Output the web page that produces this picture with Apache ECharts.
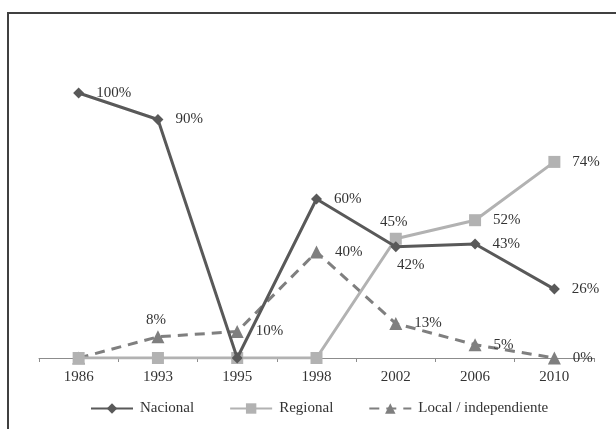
<!DOCTYPE html>
<html>
<head>
<meta charset="utf-8">
<script src="https://cdn.jsdelivr.net/npm/echarts@6/dist/echarts.min.js"></script>
<style>
  html, body { margin: 0; padding: 0; background: #fff; }
  #chart { width: 616px; height: 429px; }
</style>
</head>
<body>
<div id="chart"></div>
<script>
// datos
var years = ['1986', '1993', '1995', '1998', '2002', '2006', '2010'];
var nacional = [100, 90, 0, 60, 42, 43, 26];
var regional = [0, 0, 0, 0, 45, 52, 74];
var local = [0, 8, 10, 40, 13, 5, 0];

var FONT = 'Liberation Serif';

// posicion de etiquetas: null = sin etiqueta
var nacionalPos = ['right', 'right', null, 'right', 'below', 'right', 'right'];
var regionalPos = [null, null, null, null, 'above', 'right', 'right'];
var localPos = [null, 'above', 'right', 'right', 'right', 'right', 'right'];

function buildData(values, positions) {
  return values.map(function (v, i) {
    var p = positions[i];
    if (!p) return { value: v, label: { show: false } };
    var lbl = { show: true, position: p };
    if (p === 'below') { lbl.position = 'bottom'; lbl.offset = [15, -7]; }
    if (p === 'above') { lbl.position = 'top'; lbl.distance = 3; lbl.offset = [-2, 0]; }
    return { value: v, label: lbl };
  });
}

var labelBase = {
  show: true,
  formatter: '{c}%',
  fontFamily: FONT,
  fontSize: 15,
  color: '#333',
  distance: 12
};

var chart = echarts.init(document.getElementById('chart'));
chart.setOption({
  animation: false,
  textStyle: { fontFamily: FONT },
  graphic: [{
    type: 'rect',
    shape: { x: 8, y: 13, width: 640, height: 440 },
    style: { fill: 'none', stroke: '#404040', lineWidth: 2 },
    silent: true
  }],
  grid: { left: 39, right: 22, top: 93, bottom: 71 },
  xAxis: {
    type: 'category',
    data: years,
    boundaryGap: true,
    axisLine: { lineStyle: { color: '#8c8c8c', width: 1 } },
    axisTick: { show: true, length: 4, lineStyle: { color: '#8c8c8c' } },
    axisLabel: { fontFamily: FONT, fontSize: 15, color: '#333', margin: 12 }
  },
  yAxis: {
    type: 'value',
    min: 0,
    max: 100,
    show: false,
    splitLine: { show: false }
  },
  legend: {
    bottom: 8,
    left: 85,
    itemWidth: 42,
    itemHeight: 13,
    itemGap: 35,
    textStyle: { fontFamily: FONT, fontSize: 15, color: '#333', padding: [0, 0, 0, 2] },
    data: ['Nacional', 'Regional', 'Local / independiente']
  },
  series: [
    {
      name: 'Local / independiente',
      type: 'line',
      data: buildData(local, localPos),
      symbol: 'triangle',
      symbolSize: 13,
      z: 2,
      itemStyle: { color: '#7f7f7f' },
      lineStyle: { color: '#7f7f7f', width: 3, type: [10, 7] },
      label: labelBase
    },
    {
      name: 'Regional',
      type: 'line',
      data: buildData(regional, regionalPos),
      symbol: 'rect',
      symbolSize: 12,
      z: 3,
      itemStyle: { color: '#b2b2b2' },
      lineStyle: { color: '#b2b2b2', width: 3 },
      label: labelBase
    },
    {
      name: 'Nacional',
      type: 'line',
      data: buildData(nacional, nacionalPos),
      symbol: 'diamond',
      symbolSize: 11,
      z: 4,
      itemStyle: { color: '#595959' },
      lineStyle: { color: '#595959', width: 3 },
      label: labelBase
    }
  ]
});
</script>
</body>
</html>
